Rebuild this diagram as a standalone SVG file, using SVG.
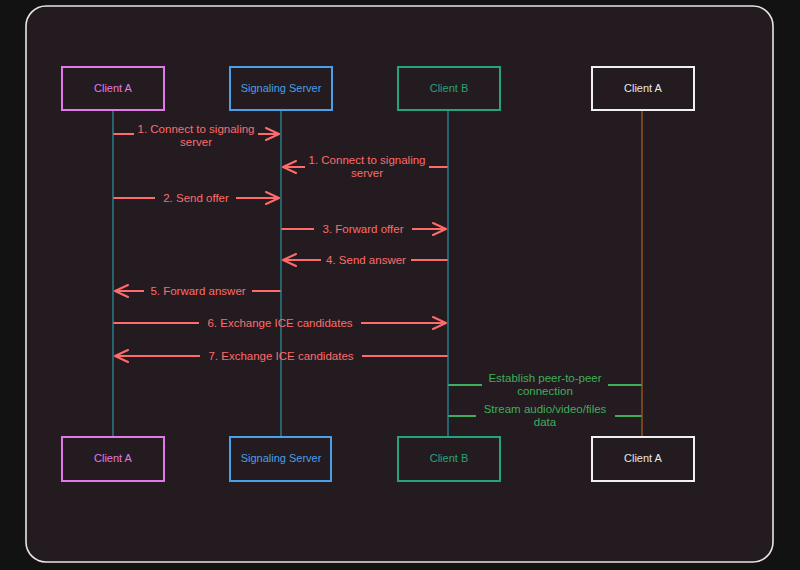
<svg xmlns="http://www.w3.org/2000/svg" width="800" height="570" viewBox="0 0 800 570">
<style>
  .node rect { fill: #231b20; stroke-width: 2; }
  .node text { font-family: "Liberation Sans", "DejaVu Sans", sans-serif; font-size: 11px; text-anchor: middle; dominant-baseline: middle; }
  .life { stroke-width: 1.3; fill: none; }
  .msg { stroke: #ff6b6b; stroke-width: 2; fill: none; marker-end: url(#ah); }
  .p2p { stroke: #3fae5a; stroke-width: 2; fill: none; }
  .lbl { font-family: "Liberation Sans", "DejaVu Sans", sans-serif; font-size: 11.5px; text-anchor: middle; }
  .red { fill: #ff6b6b; }
  .grn { fill: #3fae5a; }
  .bg { fill: #231b20; }
</style>
<defs>
  <marker id="ah" markerUnits="userSpaceOnUse" markerWidth="16" markerHeight="14" refX="14" refY="7" orient="auto">
    <path d="M1,1 L14,7 L1,13" fill="none" stroke="#ff6b6b" stroke-width="2" stroke-linecap="round" stroke-linejoin="round"/>
  </marker>
</defs>
<rect x="0" y="0" width="800" height="570" fill="#121212"/>
<rect x="26" y="6" width="747" height="556" rx="20" ry="20" fill="#231b20" stroke="#e6e6e6" stroke-width="1.6"/>

<g id="connectors">
  <line class="msg" x1="113" y1="134" x2="279" y2="134"/>
  <line class="msg" x1="448" y1="167" x2="283" y2="167"/>
  <line class="msg" x1="113" y1="198" x2="279" y2="198"/>
  <line class="msg" x1="281" y1="229" x2="446" y2="229"/>
  <line class="msg" x1="448" y1="260" x2="283" y2="260"/>
  <line class="msg" x1="281" y1="291" x2="115" y2="291"/>
  <line class="msg" x1="113" y1="323" x2="446" y2="323"/>
  <line class="msg" x1="448" y1="356" x2="115" y2="356"/>
  <line class="p2p" x1="448" y1="385" x2="642" y2="385"/>
  <line class="p2p" x1="448" y1="416" x2="642" y2="416"/>

  <rect class="bg" x="134" y="122" width="124" height="26"/>
  <rect class="bg" x="305" y="153" width="124" height="26"/>
  <rect class="bg" x="155" y="190" width="81" height="16"/>
  <rect class="bg" x="314" y="221" width="98" height="16"/>
  <rect class="bg" x="321" y="252" width="90" height="16"/>
  <rect class="bg" x="144" y="283" width="108" height="16"/>
  <rect class="bg" x="199" y="315" width="162" height="16"/>
  <rect class="bg" x="200" y="348" width="162" height="16"/>
  <rect class="bg" x="482" y="372" width="126" height="26"/>
  <rect class="bg" x="476" y="403" width="139" height="26"/>
</g>

<g id="lifelines">
  <line class="life" x1="113" y1="110" x2="113" y2="437" stroke="#2a8c99"/>
  <line class="life" x1="281" y1="110" x2="281" y2="437" stroke="#2a8c99"/>
  <line class="life" x1="448" y1="110" x2="448" y2="437" stroke="#2a8c99"/>
  <line class="life" x1="642" y1="110" x2="642" y2="437" stroke="#9a5e1e"/>
</g>

<g id="labels">
  <text class="lbl red" x="196" y="133">1. Connect to signaling</text>
  <text class="lbl red" x="196" y="146">server</text>
  <text class="lbl red" x="367" y="164">1. Connect to signaling</text>
  <text class="lbl red" x="367" y="177">server</text>
  <text class="lbl red" x="196" y="202">2. Send offer</text>
  <text class="lbl red" x="363" y="233">3. Forward offer</text>
  <text class="lbl red" x="366" y="264">4. Send answer</text>
  <text class="lbl red" x="198" y="295">5. Forward answer</text>
  <text class="lbl red" x="280" y="327">6. Exchange ICE candidates</text>
  <text class="lbl red" x="281" y="360">7. Exchange ICE candidates</text>
  <text class="lbl grn" x="545" y="382">Establish peer-to-peer</text>
  <text class="lbl grn" x="545" y="395">connection</text>
  <text class="lbl grn" x="545" y="413">Stream audio/video/files</text>
  <text class="lbl grn" x="545" y="426">data</text>
</g>

<g id="clientA-top" class="node">
  <rect x="62" y="67" width="102" height="43" stroke="#e07ae8"/>
  <text x="113" y="89" fill="#e07ae8">Client A</text>
</g>
<g id="server-top" class="node">
  <rect x="230" y="67" width="102" height="43" stroke="#4a9fe6"/>
  <text x="281" y="89" fill="#4a9fe6">Signaling Server</text>
</g>
<g id="clientB-top" class="node">
  <rect x="398" y="67" width="102" height="43" stroke="#25a37a"/>
  <text x="449" y="89" fill="#25a37a">Client B</text>
</g>
<g id="clientA2-top" class="node">
  <rect x="592" y="67" width="102" height="43" stroke="#f0f0f0"/>
  <text x="643" y="89" fill="#e8e8e8">Client A</text>
</g>

<g id="clientA-bottom" class="node">
  <rect x="62" y="437" width="102" height="44" stroke="#e07ae8"/>
  <text x="113" y="459" fill="#e07ae8">Client A</text>
</g>
<g id="server-bottom" class="node">
  <rect x="230" y="437" width="101" height="44" stroke="#4a9fe6"/>
  <text x="281" y="459" fill="#4a9fe6">Signaling Server</text>
</g>
<g id="clientB-bottom" class="node">
  <rect x="398" y="437" width="102" height="44" stroke="#25a37a"/>
  <text x="449" y="459" fill="#25a37a">Client B</text>
</g>
<g id="clientA2-bottom" class="node">
  <rect x="592" y="437" width="102" height="44" stroke="#f0f0f0"/>
  <text x="643" y="459" fill="#e8e8e8">Client A</text>
</g>
</svg>
